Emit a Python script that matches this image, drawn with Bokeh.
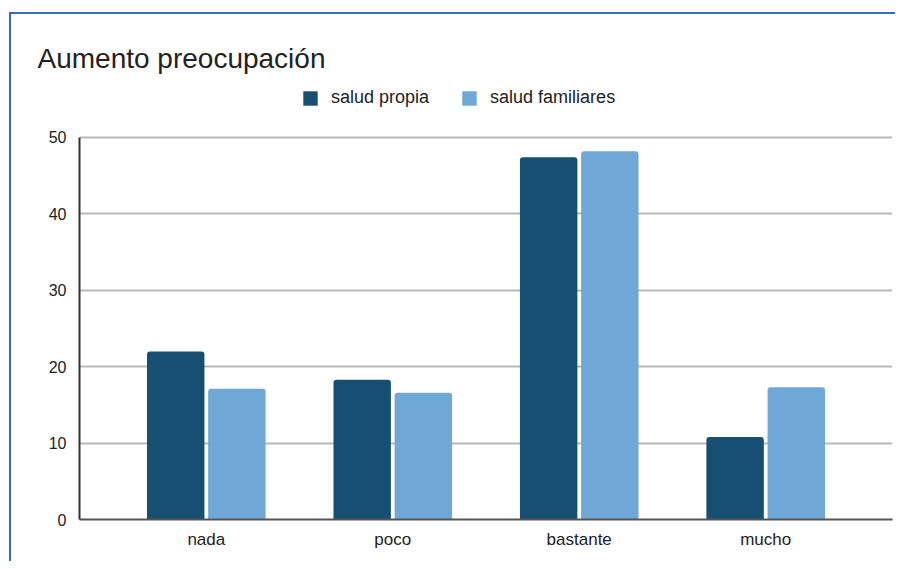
from bokeh.plotting import figure
from bokeh.models import FactorRange, Range1d, Legend, LegendItem, ColumnDataSource
from bokeh.transform import dodge
from bokeh.embed import file_html
from bokeh.resources import INLINE

categories = ["nada", "poco", "bastante", "mucho"]
salud_propia = [22.0, 18.3, 47.4, 10.8]
salud_familiares = [17.1, 16.6, 48.2, 17.3]
series_names = ["salud propia", "salud familiares"]
y_ticks = [0, 10, 20, 30, 40, 50]
title_text = "Aumento preocupación"

FONT = "Liberation Sans"
DARK = "#164f71"
LIGHT = "#6fa8d7"

src = ColumnDataSource(dict(cat=categories, a=salud_propia, b=salud_familiares))

p = figure(width=886, height=549, output_backend="svg", toolbar_location=None,
           x_range=FactorRange(*categories, range_padding=0.18, range_padding_units="absolute"),
           y_range=Range1d(0, 57.46))
p.margin = (12, 0, 0, 9)
p.styles = {"border-left": "2px solid #3a6cb5", "border-top": "2px solid #3a6cb5"}

r1 = p.vbar(x=dodge("cat", -0.164, range=p.x_range), top="a", width=0.308, source=src,
            fill_color=DARK, line_color=None, border_radius=(3, 3, 0, 0))
r2 = p.vbar(x=dodge("cat", 0.164, range=p.x_range), top="b", width=0.308, source=src,
            fill_color=LIGHT, line_color=None, border_radius=(3, 3, 0, 0))

p.min_border_left = 68
p.min_border_right = 5
p.min_border_bottom = 44
p.min_border_top = 66

p.title.text = title_text
p.title.text_font = FONT
p.title.text_font_size = "28px"
p.title.text_font_style = "normal"
p.title.text_color = "#222222"
p.title.offset = -42
p.title.standoff = 13

legend = Legend(items=[LegendItem(label=series_names[0], renderers=[r1]),
                       LegendItem(label=series_names[1], renderers=[r2])],
                orientation="horizontal", location=(222, 411),
                label_text_font=FONT, label_text_font_size="18px", label_text_color="#222222",
                glyph_width=18, glyph_height=18, spacing=31, label_standoff=12,
                border_line_color=None, background_fill_alpha=0, margin=0, padding=4)
p.add_layout(legend, "center")

p.yaxis.ticker = y_ticks
p.yaxis.bounds = (0, 50)
p.xaxis.major_label_text_font = FONT
p.yaxis.major_label_text_font = FONT
p.xaxis.major_label_text_font_size = "17px"
p.yaxis.major_label_text_font_size = "16px"
p.xaxis.major_label_text_color = "#222222"
p.yaxis.major_label_text_color = "#222222"
p.axis.major_tick_line_color = None
p.axis.minor_tick_line_color = None
p.yaxis.axis_line_color = "#333333"
p.yaxis.axis_line_width = 2
p.xaxis.axis_line_color = "#555555"
p.xaxis.axis_line_width = 2
p.yaxis.major_label_standoff = 7
p.xaxis.major_label_standoff = 4
p.xgrid.grid_line_color = None
p.ygrid.grid_line_color = "#b8b8b8"
p.ygrid.grid_line_width = 2
p.outline_line_color = None

open("out.html", "w").write(file_html(p, INLINE))
